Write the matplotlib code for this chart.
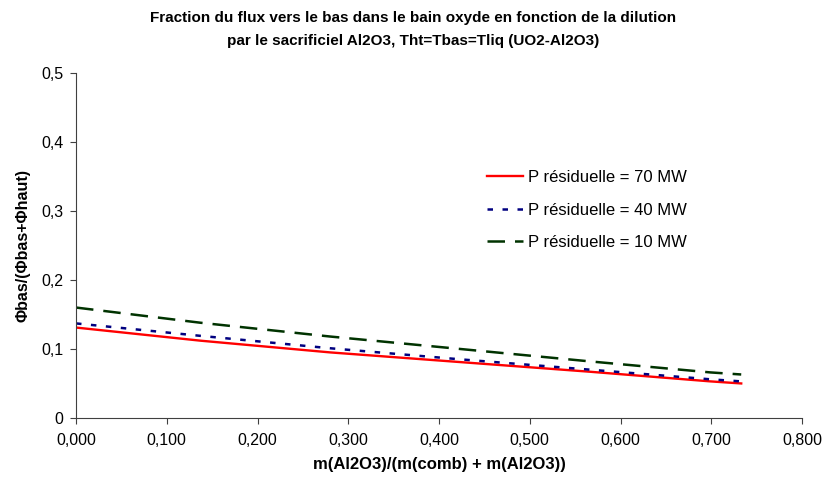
import matplotlib
matplotlib.use("Agg")
import matplotlib.pyplot as plt

x = [0.0, 0.137, 0.280, 0.423, 0.566, 0.699, 0.733]
p70 = [0.131, 0.112, 0.095, 0.081, 0.067, 0.053, 0.050]
p40 = [0.137, 0.119, 0.101, 0.085, 0.070, 0.056, 0.053]
p10 = [0.160, 0.138, 0.118, 0.100, 0.082, 0.066, 0.063]

xticks = [0.0, 0.1, 0.2, 0.3, 0.4, 0.5, 0.6, 0.7, 0.8]
xticklabels = ["0,000", "0,100", "0,200", "0,300", "0,400", "0,500", "0,600", "0,700", "0,800"]
yticks = [0.0, 0.1, 0.2, 0.3, 0.4, 0.5]
yticklabels = ["0", "0,1", "0,2", "0,3", "0,4", "0,5"]

plt.rcParams['font.family'] = ['Liberation Sans', 'DejaVu Sans']

fig = plt.figure(figsize=(8.27, 4.86), dpi=100)
ax = fig.add_axes([0.0919, 0.140, 0.8779, 0.710])

ax.plot(x, p70, color='#ff0000', lw=1.7, label='P résiduelle = 70 MW')
ax.plot(x, p40, color='#000080', lw=1.8, dashes=(2.2, 3.8), label='P résiduelle = 40 MW')
ax.plot(x, p10, color='#003300', lw=1.8, dashes=(7, 4), label='P résiduelle = 10 MW')

ax.set_xlim(0, 0.8)
ax.set_ylim(0, 0.5)
ax.set_xticks(xticks)
ax.set_xticklabels(xticklabels)
ax.set_yticks(yticks)
ax.set_yticklabels(yticklabels)
ax.tick_params(axis='both', labelsize=11.5, direction='out', length=4, color='#404040')
ax.tick_params(axis='x', pad=7)
ax.tick_params(axis='y', pad=5)
for s in ['top', 'right']:
    ax.spines[s].set_visible(False)
for s in ['left', 'bottom']:
    ax.spines[s].set_color('#404040')

ax.set_xlabel('m(Al2O3)/(m(comb) + m(Al2O3))', fontsize=12, fontweight='bold', labelpad=6)
ax.set_ylabel('Φbas/(Φbas+Φhaut)', fontsize=11.5, fontweight='bold', labelpad=8)
fig.suptitle('Fraction du flux vers le bas dans le bain oxyde en fonction de la dilution\n'
             'par le sacrificiel Al2O3, Tht=Tbas=Tliq (UO2-Al2O3)',
             fontsize=11, fontweight='bold', y=0.978, linespacing=1.85)

leg = ax.legend(loc='upper left', bbox_to_anchor=(0.545, 0.762), frameon=False,
                fontsize=12, labelspacing=1.05, handlelength=2.15, handletextpad=0.3)

fig.savefig('out.png', dpi=100)
